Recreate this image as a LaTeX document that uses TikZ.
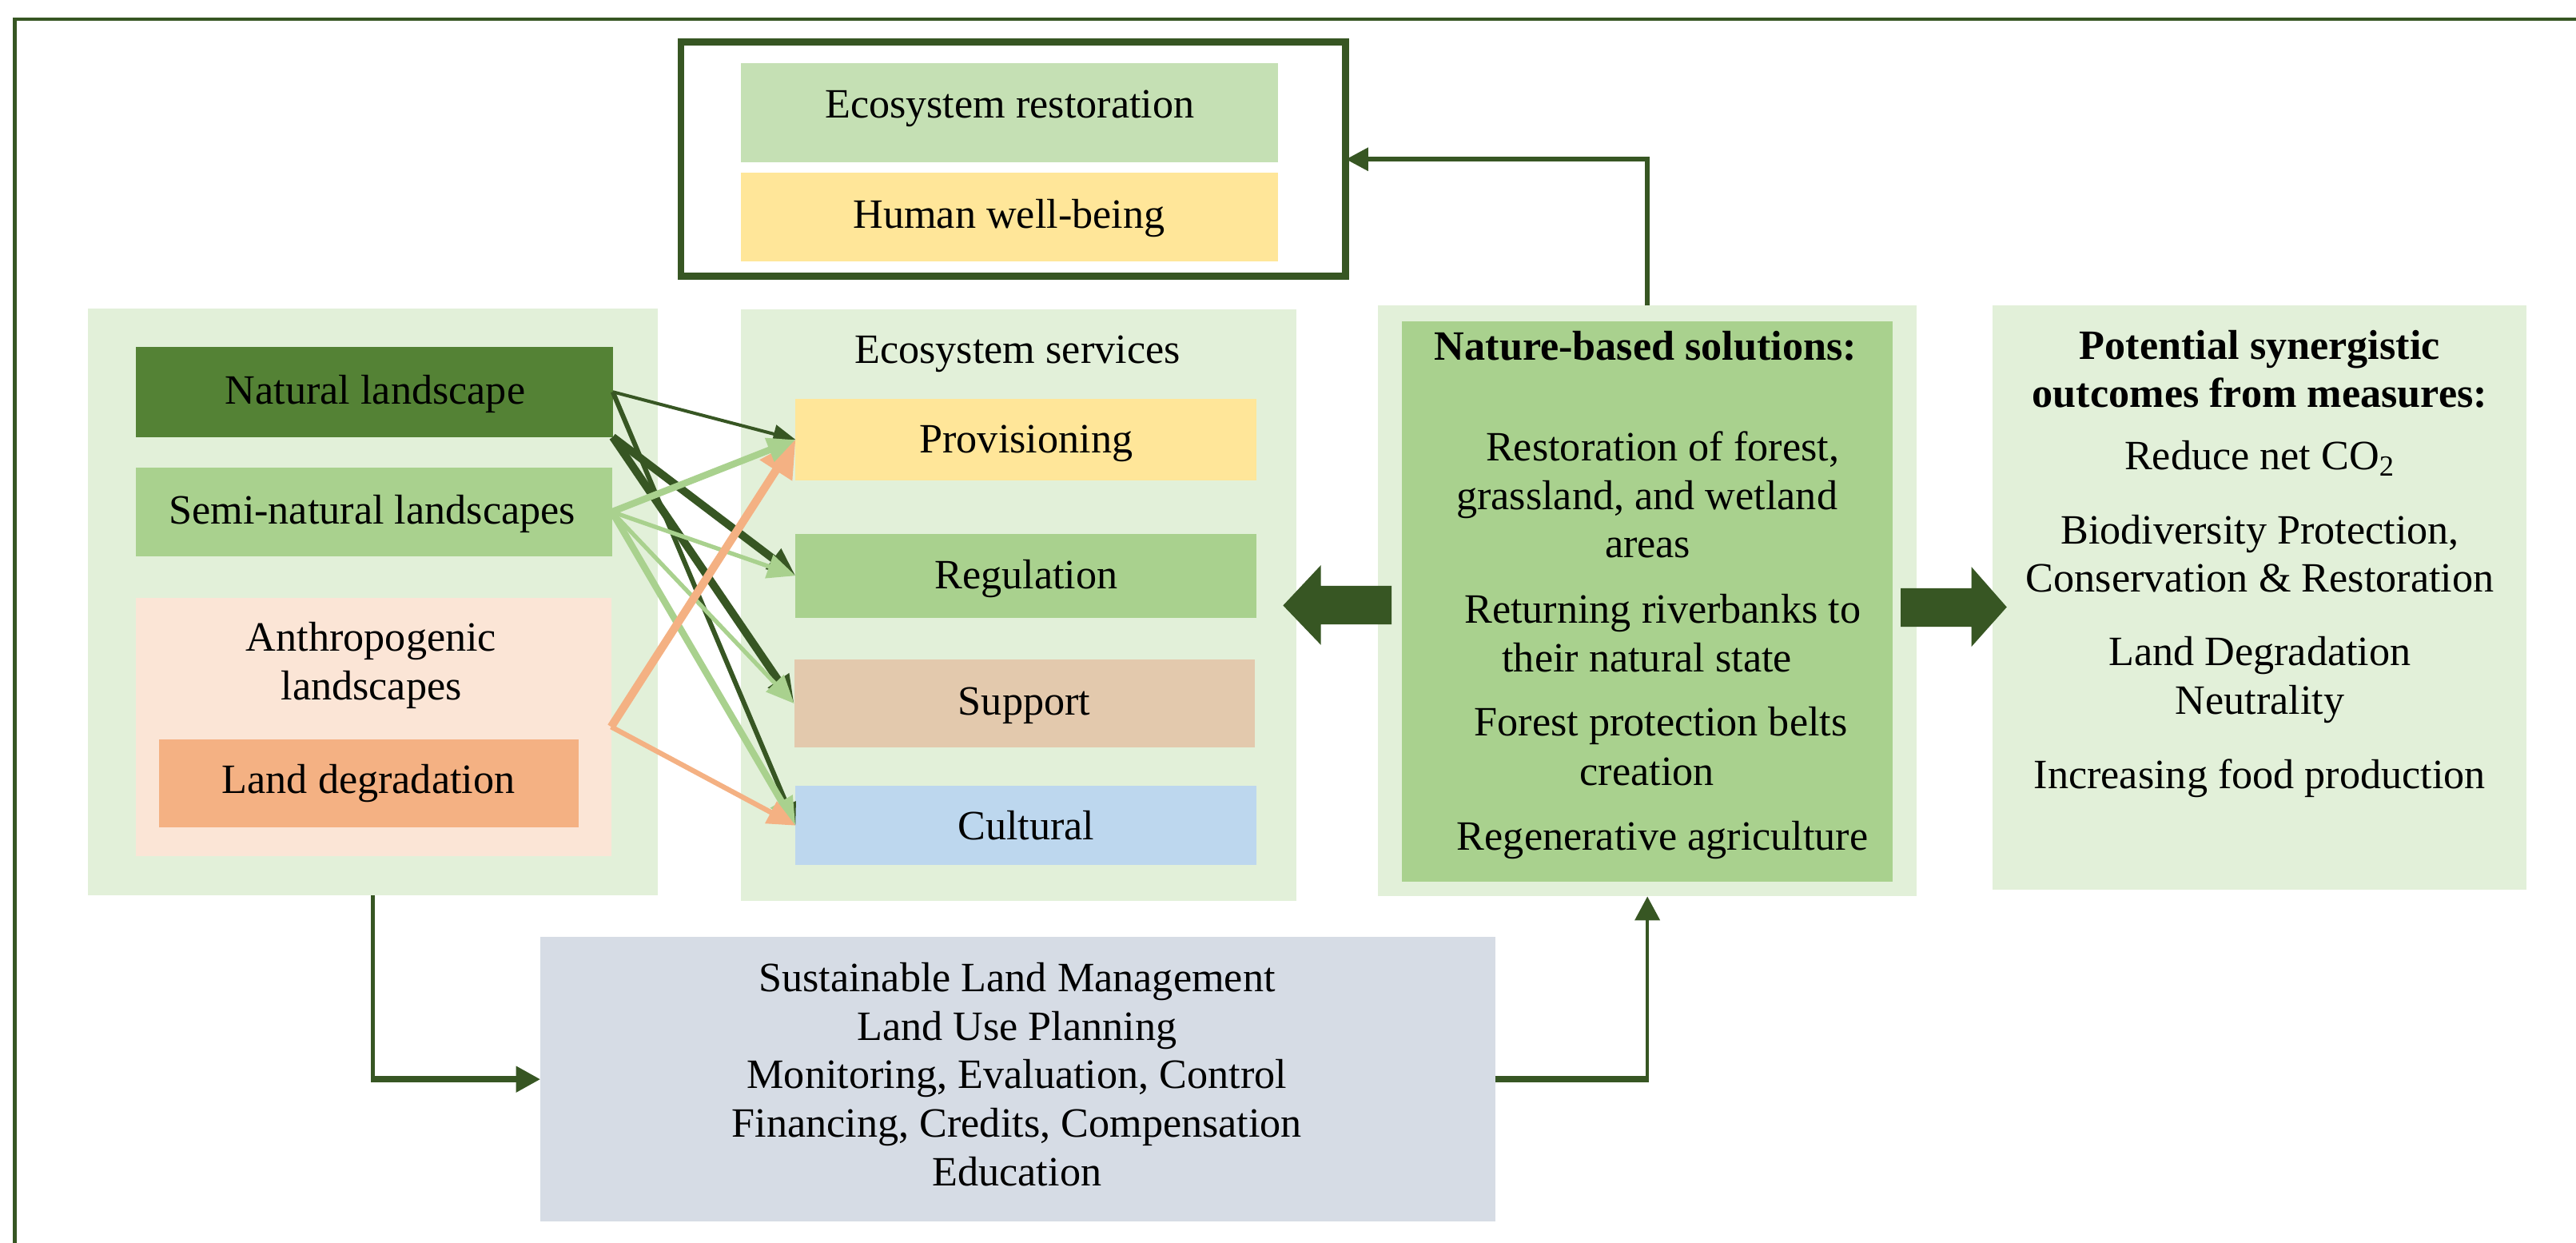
\documentclass[tikz,border=0pt]{standalone}
\usepackage{fontspec}
\setmainfont{Liberation Serif}
\usetikzlibrary{arrows.meta}

\definecolor{dkgreen}{HTML}{375623}
\definecolor{midgreen}{HTML}{548235}
\definecolor{ltgreen}{HTML}{A9D18E}
\definecolor{palegreen}{HTML}{E2F0D9}
\definecolor{mint}{HTML}{C5E0B4}
\definecolor{gold}{HTML}{FFE699}
\definecolor{peach}{HTML}{FBE5D6}
\definecolor{apricot}{HTML}{F4B183}
\definecolor{tan}{HTML}{E3C9AD}
\definecolor{skyblue}{HTML}{BDD7EE}
\definecolor{slate}{HTML}{D6DCE5}

% filled rectangle node given by its corners: style, name, x1, y1, x2, y2
\newcommand\rectnode[6]{%
  \node[#1, minimum width={(#5-#3)*0.020555cm}, minimum height={(#6-#4)*0.020555cm}]
    (#2) at ({(#3+#5)/2},{(#4+#6)/2}) {};}

\begin{document}
\begin{tikzpicture}[x=0.020555cm, y=-0.020555cm,
  every node/.style={inner sep=0pt, outer sep=0pt,
    font=\fontsize{14.85}{17.27}\selectfont},
  panel/.style={rectangle, draw=none, fill=#1},
  % multi-line labels are placed by the baseline of their last line
  txt/.style={anchor=base, align=center, text=black},
  hdsmall/.style={-{Triangle[length=8pt,width=6.5pt]}},
  hdmid/.style={-{Triangle[length=10pt,width=8.5pt]}},
  hdbig/.style={-{Triangle[length=13pt,width=13pt]}},
  flow/.style={line width=#1, line cap=butt},
]
\useasboundingbox (0,0) rectangle (1568,756.5);

% page frame (open at the right and bottom)
\draw[dkgreen, line width=1.2pt] (9,756.5) -- (9,11.7) -- (1568,11.7);

% ---- outcome frame at the top ----
\node[rectangle, draw=dkgreen, line width=2.5pt,
      minimum width={(819.2-414.5)*0.020555cm},
      minimum height={(168.2-25.7)*0.020555cm}]
  (wbframe) at ({(414.5+819.2)/2},{(25.7+168.2)/2}) {};
\rectnode{panel=mint}{restor}{451}{38.6}{778}{99}
\rectnode{panel=gold}{wellb}{451}{105}{778}{159}
\node[txt] (restorlbl) at (614.6,72) {Ecosystem restoration};
\node[txt] (wellblbl) at (614.2,138.7) {Human well-being};

% ---- landscapes ----
\rectnode{panel=palegreen}{lscape}{53.5}{187.7}{400.4}{545}
\rectnode{panel=midgreen}{nat}{82.7}{211}{373}{266}
\rectnode{panel=ltgreen}{semi}{82.7}{284.5}{372.5}{338.5}
\rectnode{panel=peach}{anth}{82.6}{363.7}{372}{521}
\rectnode{panel=apricot}{degr}{96.8}{449.8}{352}{503.3}
\node[txt] (natlbl) at (228.4,245.7) {Natural landscape};
\node[txt] (semilbl) at (226.5,318.7) {Semi-natural landscapes};
\node[txt] (anthlbl) at (226,425.7) {Anthropogenic\\landscapes};
\node[txt] (degrlbl) at (224.3,482.8) {Land degradation};

% ---- ecosystem services ----
\rectnode{panel=palegreen}{ess}{451}{188.3}{789}{548.4}
\rectnode{panel=gold}{prov}{484.3}{242.6}{765}{292.6}
\rectnode{panel=ltgreen}{reg}{484.3}{324.8}{765}{376}
\rectnode{panel=tan}{sup}{483.4}{401.4}{763.6}{455}
\rectnode{panel=skyblue}{cult}{484.3}{478.3}{765}{526.6}
\node[txt] (esslbl) at (619.3,221) {Ecosystem services};
\node[txt] (provlbl) at (624.6,275.6) {Provisioning};
\node[txt] (reglbl) at (624.6,358.3) {Regulation};
\node[txt] (suplbl) at (623.5,435) {Support};
\node[txt] (cultlbl) at (624.6,511.2) {Cultural};

% ---- nature-based solutions ----
\rectnode{panel=palegreen}{nbs}{838.9}{186}{1166.6}{545.6}
\rectnode{panel=ltgreen}{nbsin}{853.4}{195.4}{1152}{536.7}
\node[txt] (nbstitle) at (1001.7,219.4) {\textbf{Nature-based solutions:}};
\node[txt] (nbsa) at (1012,280.4) {Restoration of forest,};
\node[txt] (nbsb) at (1002.5,310) {grassland, and wetland};
\node[txt] (nbsc) at (1003,339.4) {areas};
\node[txt] (nbsd) at (1012,379) {Returning riverbanks to};
\node[txt] (nbse) at (1002.5,408.7) {their natural state};
\node[txt] (nbsf) at (1011,448) {Forest protection belts};
\node[txt] (nbsg) at (1002.5,477.8) {creation};
\node[txt] (nbsh) at (1012,517.3) {Regenerative agriculture};

% ---- potential outcomes ----
\rectnode{panel=palegreen}{pot}{1213}{186}{1538}{541.7}
\node[txt] (pottitle) at (1375.5,248) {\textbf{Potential synergistic}\\\textbf{outcomes from measures:}};
\node[txt] (pota) at (1375.6,285.8) {Reduce net CO\textsubscript{2}};
\node[txt] (potb) at (1375.6,360.4) {Biodiversity Protection,\\Conservation \& Restoration};
\node[txt] (potc) at (1375.5,434.6) {Land Degradation\\Neutrality};
\node[txt] (potd) at (1375.5,479.7) {Increasing food production};

% ---- management measures ----
\rectnode{panel=slate}{slm}{329}{570.3}{910}{743.4}
\node[txt] (slmlbl) at (619,721.6) {Sustainable Land Management\\Land Use Planning\\Monitoring, Evaluation, Control\\Financing, Credits, Compensation\\Education};

% ---- links from landscapes to services ----
\draw[dkgreen, flow=1.15pt, hdsmall] (nat.east) -- (prov.west);
\draw[dkgreen, flow=1.7pt, hdsmall] (nat.east) -- (cult.west);
\draw[dkgreen, flow=2.8pt, hdmid] (nat.south east) -- (reg.west);
\draw[dkgreen, flow=2.8pt, hdmid] (nat.south east) -- (sup.west);
\draw[ltgreen, flow=1.5pt, hdmid] (semi.east) -- (reg.west);
\draw[ltgreen, flow=1.5pt, hdmid] (semi.east) -- (sup.west);
\draw[ltgreen, flow=2.4pt, hdmid] (semi.east) -- (cult.west);
\draw[apricot, flow=1.8pt, hdmid] (anth.east) -- (cult.west);
\draw[apricot, flow=2.9pt, hdbig] (anth.east) -- (prov.west);
\draw[ltgreen, flow=2.4pt, hdmid] (semi.east) -- (prov.west);

% ---- block arrows out of the nature-based solutions ----
\fill[dkgreen] (847,356.5) -- (804,356.5) -- (804,344) -- (781,368.5)
  -- (804,392.5) -- (804,380) -- (847,380) -- cycle;
\fill[dkgreen] (1157,358) -- (1200,358) -- (1200,345) -- (1221.5,369.5)
  -- (1200,393.6) -- (1200,381.5) -- (1157,381.5) -- cycle;

% ---- feedback connectors ----
\draw[dkgreen, line width=1.7pt, -{Triangle[length=8pt,width=8pt]}]
  (nbs.north) |- (wbframe.east);
\draw[dkgreen, line width=1.2pt] (lscape.south) -- (lscape.south |- slm.west);
\draw[dkgreen, line width=2.4pt, -{Triangle[length=8.7pt,width=8.8pt]}]
  ([xshift=-0.6pt]lscape.south |- slm.west) -- (slm.west);
\draw[dkgreen, line width=2.4pt] (slm.east) -- ([xshift=0.6pt]slm.east -| nbs.south);
\draw[dkgreen, line width=1.2pt, -{Triangle[length=8.5pt,width=8.8pt]}]
  (slm.east -| nbs.south) -- (nbs.south);
\end{tikzpicture}
\end{document}
